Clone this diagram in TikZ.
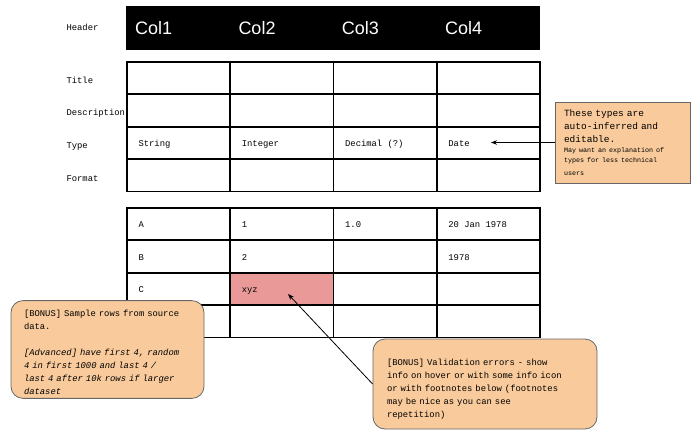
\documentclass[tikz,border=0pt]{standalone}
\usepackage{fontspec}
\setmainfont{Liberation Sans}
\setsansfont{Liberation Sans}
\setmonofont{Liberation Mono}
\usepackage{tikz}
\usetikzlibrary{arrows.meta}

\definecolor{peach}{HTML}{F9CB9C}
\definecolor{badred}{HTML}{EA9999}
\definecolor{notegray}{HTML}{666666}

\newcommand{\monotext}{\ttfamily\fontsize{8.85}{13}\selectfont}
\newcommand{\notebig}{\ttfamily\fontsize{9.5}{13}\selectfont}
\newcommand{\notesmall}{\ttfamily\fontsize{6.7}{10}\selectfont}

\begin{document}
\begin{tikzpicture}[x=1pt, y=-1pt,
    cell/.style = {draw, line width=1.8pt, anchor=north west,
        minimum width=103.3pt, minimum height=32.4pt},
    headcell/.style = {draw, fill=black, text=white, anchor=north west,
        text width=85.3pt, inner xsep=9pt, align=left,
        minimum height=43pt, text height=13pt, text depth=0pt,
        font=\sffamily\fontsize{18}{20}\selectfont},
    celltext/.style = {anchor=base west, xshift=9pt, yshift=-3.5pt, font=\monotext},
    rowname/.style = {anchor=base west, font=\monotext},
    note/.style = {draw=notegray, line width=0.8pt, fill=peach, align=left, font=\monotext}
    ]
    \useasboundingbox (0,0) rectangle (694,434);

    % header bar and both tables
    \foreach \c/\x in {1/126,2/229.3,3/332.6,4/435.9} {
        \node[headcell] (h\c) at (\x,6) {Col\c};
        \foreach \r/\y in {1/61,2/93.4,3/125.8,4/158.2}
            \node[cell] (m\r\c) at (\x,\y) {};
        \foreach \r/\y in {1/207,2/239.4,3/271.8,4/304.2}
            \node[cell] (s\r\c) at (\x,\y) {};
    }
    \node[cell, fill=badred] (s32) at (229.3,271.8) {};

    % row names
    \node[rowname] (lhead) at (63,30) {Header};
    \node[rowname] (ltitle) at (63,83) {Title};
    \node[rowname] (ldesc) at (63,115) {Description};
    \node[rowname] (ltype) at (63,148) {Type};
    \node[rowname] (lformat) at (63,181) {Format};

    % cell contents
    \node[celltext] (tstring) at (m31.west) {String};
    \node[celltext] (tinteger) at (m32.west) {Integer};
    \node[celltext] (tdecimal) at (m33.west) {Decimal (?)};
    \node[celltext] (tdate) at (m34.west) {Date};
    \node[celltext] (ta) at (s11.west) {A};
    \node[celltext] (tone) at (s12.west) {1};
    \node[celltext] (tonedot) at (s13.west) {1.0};
    \node[celltext] (tjan) at (s14.west) {20 Jan 1978};
    \node[celltext] (tb) at (s21.west) {B};
    \node[celltext] (ttwo) at (s22.west) {2};
    \node[celltext] (tyear) at (s24.west) {1978};
    \node[celltext] (tc) at (s31.west) {C};
    \node[celltext] (txyz) at (s32.west) {xyz};

    % notes
    \node[note, text width=117pt, inner xsep=9pt, minimum width=135pt, minimum height=81pt]
        (typesnote) at (622.5,142.5)
        {\notebig These types are\\ auto-inferred and\\ editable.\par
         \notesmall May want an explanation of\\ types for less technical\\ users};
    \node[note, rounded corners=12pt, text width=167pt, inner xsep=13pt, minimum height=91pt]
        (samplenote) at (107.5,349.5)
        {\rule{0pt}{13pt}[BONUS] Sample rows from source\\ data.\\[13pt]
         \textit{[Advanced] have first 4, random\\ 4 in first 1000 and last 4 /\\
         last 4 after 10k rows if larger\\ dataset}};
    \node[note, rounded corners=12pt, text width=196pt, inner xsep=14pt, minimum height=90pt]
        (valnote) at (485,384)
        {\rule{0pt}{16pt}[BONUS] Validation errors - show\\ info on hover or with some info icon\\
         or with footnotes below (footnotes\\ may be nice as you can see\\ repetition)};

    \coordinate (datept) at (491,142.5);
    \coordinate (xyzpt) at (288,294);
    \draw[line width=0.8pt, -{Stealth[length=6pt, width=4.5pt]}] (typesnote.west) -- (datept);
    \draw[line width=0.8pt, -{Stealth[length=6pt, width=4.5pt]}] (valnote.west) -- (xyzpt);
\end{tikzpicture}
\end{document}
